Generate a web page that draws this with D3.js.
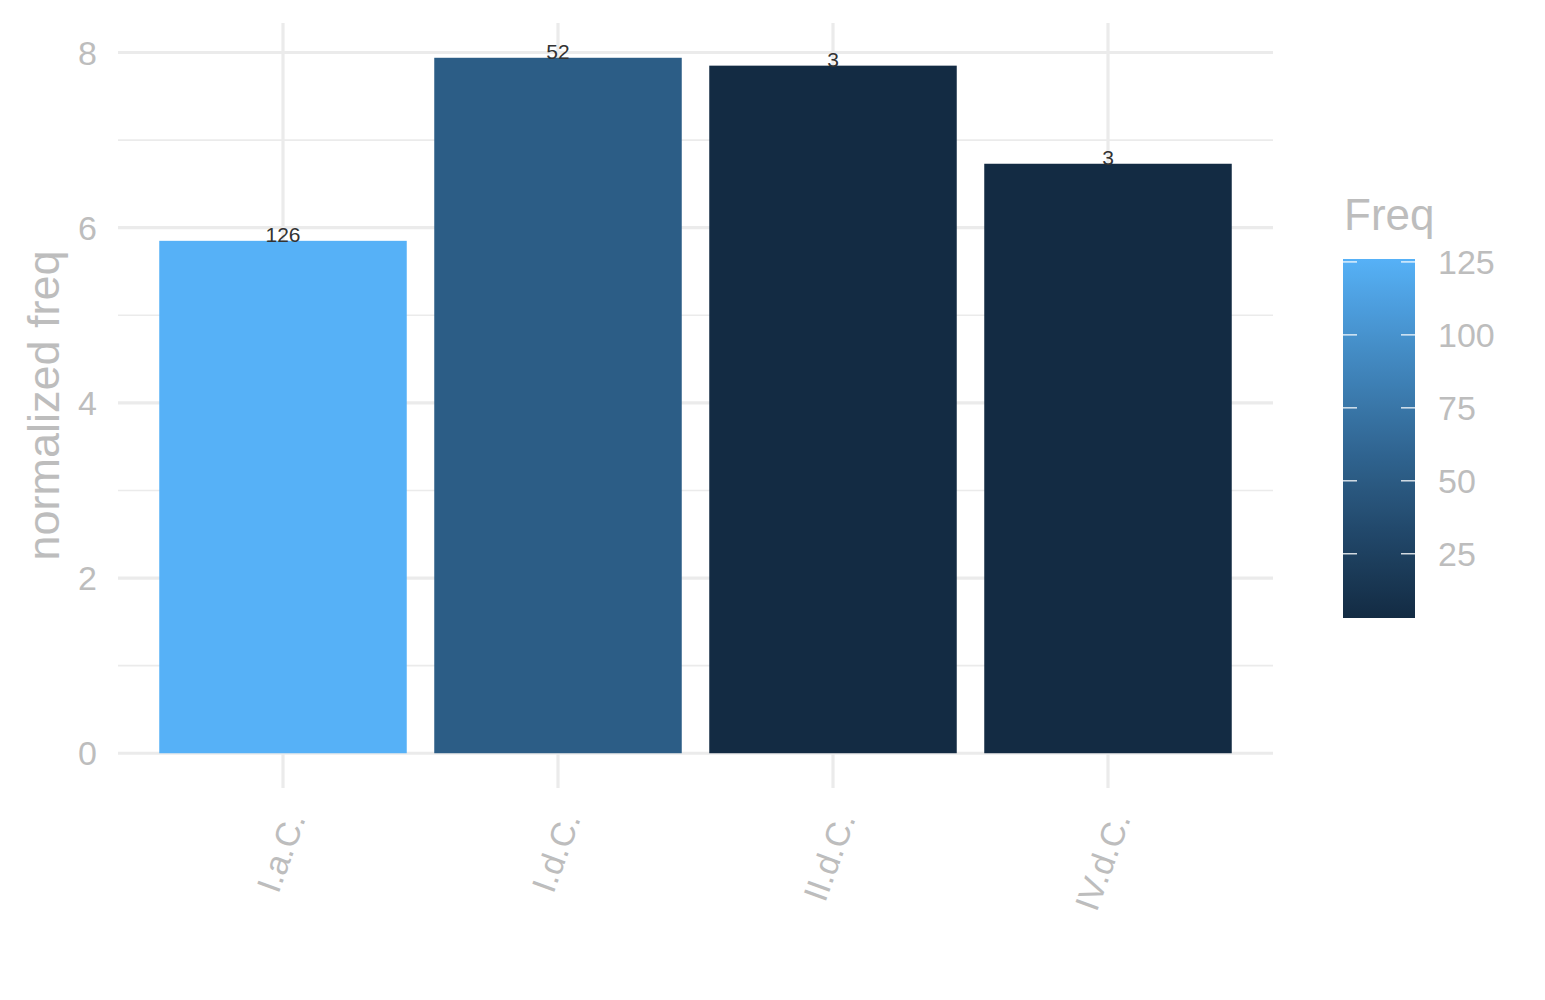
<!DOCTYPE html>
<html>
<head>
<meta charset="utf-8">
<script src="https://cdn.jsdelivr.net/npm/d3@7"></script>
<style>
  body { margin: 0; background: #fff; }
  text { font-family: "Liberation Sans", Arial, sans-serif; }
</style>
</head>
<body>
<svg id="chart" width="1545" height="1000"></svg>
<script>
/* data */
var categories = ["I.a.C.", "I.d.C.", "II.d.C.", "IV.d.C."];
var normFreq = [5.85, 7.94, 7.85, 6.73];
var freq = [126, 52, 3, 3];
var yTicks = [0, 2, 4, 6, 8];
var yMinor = [1, 3, 5, 7];
var legendTicks = [25, 50, 75, 100, 125];

var data = categories.map(function(c, i) {
  return {cat: c, value: normFreq[i], freq: freq[i]};
});

var svg = d3.select("#chart");
var grey = "#bdbdbd", gridCol = "#ebebeb";

/* panel */
var left = 118, right = 1273;
var yMax = d3.max(normFreq), pad = yMax * 0.05;

var x = d3.scaleBand().domain(categories).range([left, right])
    .paddingInner(0.1).paddingOuter(0.15);
var y = d3.scaleLinear().domain([-pad, yMax + pad]).range([788, 23]);

/* kleur schaal zoals ggplot gradient */
var color = d3.scaleLinear().domain(d3.extent(freq))
    .range(["#132B43", "#56B1F7"])
    .interpolate(d3.interpolateLab);

/* grid */
svg.append("g").selectAll("line.minor")
  .data(yMinor).enter().append("line")
    .attr("x1", left).attr("x2", right)
    .attr("y1", function(d) { return y(d); })
    .attr("y2", function(d) { return y(d); })
    .attr("stroke", gridCol).attr("stroke-width", 1.6);

svg.append("g").selectAll("line.major")
  .data(yTicks).enter().append("line")
    .attr("x1", left).attr("x2", right)
    .attr("y1", function(d) { return y(d); })
    .attr("y2", function(d) { return y(d); })
    .attr("stroke", gridCol).attr("stroke-width", 3.2);

svg.append("g").selectAll("line.vert")
  .data(categories).enter().append("line")
    .attr("x1", function(d) { return x(d) + x.bandwidth() / 2; })
    .attr("x2", function(d) { return x(d) + x.bandwidth() / 2; })
    .attr("y1", y.range()[1]).attr("y2", y.range()[0])
    .attr("stroke", gridCol).attr("stroke-width", 3.2);

/* bars */
svg.append("g").selectAll("rect")
  .data(data).enter().append("rect")
    .attr("x", function(d) { return x(d.cat); })
    .attr("y", function(d) { return y(d.value); })
    .attr("width", x.bandwidth())
    .attr("height", function(d) { return y(0) - y(d.value); })
    .attr("fill", function(d) { return color(d.freq); });

/* labels boven de bars */
svg.append("g").selectAll("text")
  .data(data).enter().append("text")
    .attr("x", function(d) { return x(d.cat) + x.bandwidth() / 2; })
    .attr("y", function(d) { return y(d.value) + 1; })
    .attr("text-anchor", "middle")
    .attr("font-size", 21)
    .attr("fill", "#333")
    .text(function(d) { return d.freq; });

/* y as */
svg.append("g").selectAll("text")
  .data(yTicks).enter().append("text")
    .attr("x", 97)
    .attr("y", function(d) { return y(d); })
    .attr("dy", "0.36em")
    .attr("text-anchor", "end")
    .attr("font-size", 34)
    .attr("fill", grey)
    .text(function(d) { return d; });

svg.append("text")
    .attr("transform", "translate(59," + ((y.range()[0] + y.range()[1]) / 2) + ") rotate(-90)")
    .attr("text-anchor", "middle")
    .attr("font-size", 45)
    .attr("fill", grey)
    .text("normalized freq");

/* x as */
svg.append("g").selectAll("text")
  .data(categories).enter().append("text")
    .attr("transform", function(d) {
      return "translate(" + (x(d) + x.bandwidth() / 2) + ",810) rotate(-70)";
    })
    .attr("dy", "0.72em")
    .attr("text-anchor", "end")
    .attr("font-size", 34)
    .attr("fill", grey)
    .text(function(d) { return d; });

/* legenda */
var ly = d3.scaleLinear().domain(d3.extent(freq)).range([618, 259]);
var lx = 1343, lw = 72;

var grad = svg.append("defs").append("linearGradient")
    .attr("id", "freqGrad")
    .attr("x1", 0).attr("y1", 1).attr("x2", 0).attr("y2", 0);
d3.range(0, 1.0001, 0.05).forEach(function(t) {
  var v = ly.domain()[0] + t * (ly.domain()[1] - ly.domain()[0]);
  grad.append("stop").attr("offset", t).attr("stop-color", color(v));
});

svg.append("rect")
    .attr("x", lx).attr("y", ly(ly.domain()[1]))
    .attr("width", lw)
    .attr("height", ly(ly.domain()[0]) - ly(ly.domain()[1]))
    .attr("fill", "url(#freqGrad)");

var lt = svg.append("g").selectAll("g")
  .data(legendTicks).enter().append("g");
lt.append("line")
    .attr("x1", lx).attr("x2", lx + 14)
    .attr("y1", function(d) { return ly(d); })
    .attr("y2", function(d) { return ly(d); })
    .attr("stroke", "#fff").attr("stroke-width", 1.2);
lt.append("line")
    .attr("x1", lx + lw - 14).attr("x2", lx + lw)
    .attr("y1", function(d) { return ly(d); })
    .attr("y2", function(d) { return ly(d); })
    .attr("stroke", "#fff").attr("stroke-width", 1.2);
lt.append("text")
    .attr("x", 1438)
    .attr("y", function(d) { return ly(d); })
    .attr("dy", "0.36em")
    .attr("font-size", 34)
    .attr("fill", grey)
    .text(function(d) { return d; });

svg.append("text")
    .attr("x", 1344).attr("y", 230)
    .attr("font-size", 44)
    .attr("fill", grey)
    .text("Freq");
</script>
</body>
</html>
